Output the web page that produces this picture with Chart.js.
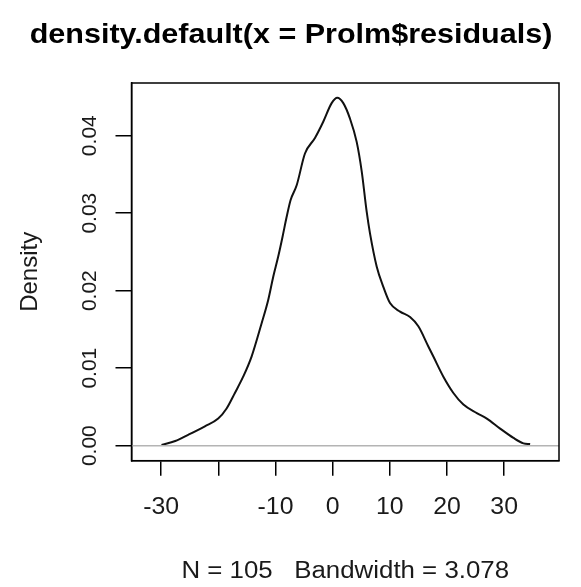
<!DOCTYPE html>
<html lang="en">
<head>
<meta charset="UTF-8" />
<title>density.default(x = Prolm$residuals)</title>
<script src="https://cdn.jsdelivr.net/npm/chart.js"></script>
<style>
  body { margin: 0; background: white; }
  #wrap { width: 581px; height: 587px; }
</style>
</head>
<body>
<div id="wrap"><canvas id="densityChart" width="581" height="587"></canvas></div>
<script>
  // curve: residual value and estimated density
  const residualX = [-29.95, -27.55, -25.29, -22.36, -20.03, -18.56, -17.11, -15.66, -14.19,
    -12.43, -11.28, -10.40, -9.53, -8.76, -8.06, -7.36, -6.30, -4.85, -3.10, -1.65, -0.18,
    0.81, 1.86, 3.03, 4.20, 5.08, 5.95, 6.53, 7.71, 8.86, 10.03, 11.79, 13.54, 14.99, 16.74,
    17.62, 19.37, 21.12, 22.87, 25.22, 26.97, 29.30, 31.63, 33.38, 34.55];
  const densityY = [0.0001, 0.0006, 0.0014, 0.0025, 0.0035, 0.0048, 0.0068, 0.0089, 0.0115,
    0.0158, 0.0188, 0.0218, 0.0244, 0.0270, 0.0295, 0.0317, 0.0336, 0.0377, 0.0397, 0.0418, 0.0442,
    0.0449, 0.0442, 0.0422, 0.0392, 0.0354, 0.0302, 0.0274, 0.0231, 0.0205, 0.0184, 0.0173, 0.0166, 0.0154, 0.0128,
    0.0115, 0.0089, 0.0068, 0.0053, 0.0042, 0.0035, 0.0022, 0.0010, 0.0003, 0.0002];

  const xTickValues = [-30, -20, -10, 0, 10, 20, 30];
  const xTickLabels = ['-30', '', '-10', '0', '10', '20', '30'];
  const yTickValues = [0, 0.01, 0.02, 0.03, 0.04];
  const yTickLabels = ['0.00', '0.01', '0.02', '0.03', '0.04'];

  const mainTitle = 'density.default(x = Prolm$residuals)';
  const subTitle = 'N = 105   Bandwidth = 3.078';
  const yAxisTitle = 'Density';

  const FONT = '"Liberation Sans", Arial, sans-serif';

  // text a little wider than tall, like the picture
  function wideText(ctx, text, x, y, sx) {
    ctx.save();
    ctx.translate(x, y);
    ctx.scale(sx, 1);
    ctx.fillText(text, 0, 0);
    ctx.restore();
  }

  // R style decorations: box, zero line, rotated y labels, titles
  const rStyle = {
    id: 'rStyle',
    afterDatasetsDraw(chart) {
      const { ctx, chartArea: a, scales: { y } } = chart;
      ctx.save();
      const y0 = y.getPixelForValue(0);
      ctx.strokeStyle = '#b4b4b4';
      ctx.lineWidth = 1.5;
      ctx.beginPath();
      ctx.moveTo(a.left, y0);
      ctx.lineTo(a.right, y0);
      ctx.stroke();
      ctx.restore();
    },
    afterDraw(chart) {
      const { ctx, chartArea: a, scales: { x, y } } = chart;
      ctx.save();
      ctx.strokeStyle = '#000';
      ctx.lineWidth = 1.5;
      ctx.strokeRect(a.left, a.top, a.right - a.left, a.bottom - a.top);

      ctx.fillStyle = '#1a1a1a';
      ctx.textAlign = 'center';
      ctx.textBaseline = 'middle';

      // y tick labels, rotated
      ctx.font = '21px ' + FONT;
      yTickValues.forEach((v, i) => {
        ctx.save();
        ctx.translate(90, y.getPixelForValue(v));
        ctx.rotate(-Math.PI / 2);
        ctx.fillText(yTickLabels[i], 0, 0);
        ctx.restore();
      });

      // x tick labels
      ctx.font = '23px ' + FONT;
      xTickValues.forEach((v, i) => {
        wideText(ctx, xTickLabels[i], x.getPixelForValue(v), 508, 1.08);
      });

      // axis title
      ctx.save();
      ctx.font = '24px ' + FONT;
      ctx.translate(30, (a.top + a.bottom) / 2);
      ctx.rotate(-Math.PI / 2);
      ctx.fillText(yAxisTitle, 0, 0);
      ctx.restore();

      // sub title
      ctx.font = '23.5px ' + FONT;
      wideText(ctx, subTitle, (a.left + a.right) / 2, 572, 1.1);

      // main title
      ctx.fillStyle = '#000';
      ctx.font = 'bold 28px ' + FONT;
      wideText(ctx, mainTitle, 291, 35, 1.09);
      ctx.restore();
    }
  };

  const ctx = document.getElementById('densityChart').getContext('2d');
  new Chart(ctx, {
    type: 'line',
    data: {
      datasets: [{
        data: residualX.map((v, i) => ({ x: v, y: densityY[i] })),
        borderColor: '#111',
        borderWidth: 2,
        pointRadius: 0,
        fill: false,
        cubicInterpolationMode: 'monotone'
      }]
    },
    options: {
      responsive: false,
      animation: false,
      layout: { padding: { top: 83, right: 22, left: 0, bottom: 0 } },
      plugins: { legend: { display: false }, tooltip: { enabled: false } },
      scales: {
        x: {
          type: 'linear',
          min: -35.2,
          max: 39.6,
          afterBuildTicks: s => { s.ticks = xTickValues.map(v => ({ value: v })); },
          afterFit: s => { s.height = 587 - 460.7; },
          ticks: { callback: () => '' },
          grid: { drawOnChartArea: false, tickLength: 15, color: '#000', lineWidth: 1.5 },
          border: { display: true, color: '#000', width: 1.5 }
        },
        y: {
          type: 'linear',
          min: -0.00194,
          max: 0.0468,
          afterBuildTicks: s => { s.ticks = yTickValues.map(v => ({ value: v })); },
          afterFit: s => { s.width = 131.5; },
          ticks: { callback: () => '' },
          grid: { drawOnChartArea: false, tickLength: 16, color: '#000', lineWidth: 1.5 },
          border: { display: true, color: '#000', width: 1.5 }
        }
      }
    },
    plugins: [rStyle]
  });
</script>
</body>
</html>
